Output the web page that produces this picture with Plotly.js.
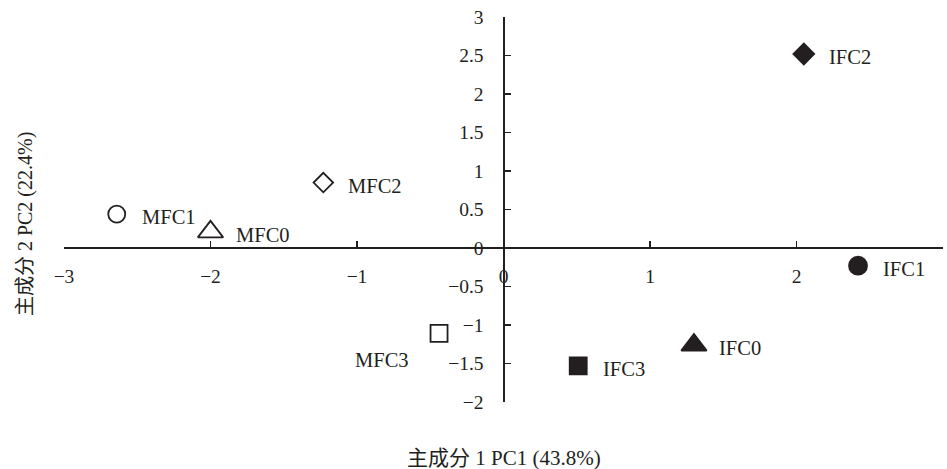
<!DOCTYPE html>
<html>
<head>
<meta charset="utf-8">
<script src="https://cdn.plot.ly/plotly-3.0.1.min.js"></script>
<style>html,body{margin:0;padding:0;background:#fff;}#chart{width:947px;height:469px;}</style>
</head>
<body>
<div id="chart"></div>
<script>
// Sample names, PC1 / PC2 scores, marker symbols
const names   = ["MFC0", "MFC1", "MFC2", "MFC3", "IFC0", "IFC1", "IFC2", "IFC3"];
const pc1     = [-2.00, -2.64, -1.23, -0.44, 1.30, 2.42, 2.05, 0.51];
const pc2     = [0.21, 0.44, 0.85, -1.11, -1.26, -0.23, 2.52, -1.53];
const symbols = ["triangle-up-open", "circle-open", "diamond-open", "square-open",
                 "triangle-up", "circle", "diamond", "square"];
const sizes   = [22, 17, 15, 17, 22, 18, 16, 17];

const xTicks = [-3, -2, -1, 0, 1, 2, 3];
const yTicks = [-2, -1.5, -1, -0.5, 0, 0.5, 1, 1.5, 2, 2.5, 3];

const ink = '#231f20';
const latin = "'Liberation Serif', 'Times New Roman', 'Noto Sans CJK SC', serif";
const fmt = v => v < 0 ? '\u2212' + Math.abs(v) : String(v);

const trace = {
  type: 'scatter', mode: 'markers',
  x: pc1, y: pc2,
  marker: {symbol: symbols, size: sizes, color: ink, opacity: 1, line: {color: ink, width: 1.8}},
  hoverinfo: 'none', cliponaxis: false
};

const annotations = names.map((n, i) => {
  const left = n === 'MFC3';
  return {
    x: pc1[i], y: pc2[i], xref: 'x', yref: 'y', text: n, showarrow: false,
    xanchor: left ? 'right' : 'left', yanchor: 'middle',
    xshift: left ? -28 : 23, yshift: left ? -27 : -3,
    font: {family: latin, size: 20.5, color: ink}
  };
});
annotations.push({
  text: '主成分 1 PC1 (43.8%)', xref: 'paper', yref: 'paper', x: 0.5, y: -0.145,
  xanchor: 'center', yanchor: 'middle', showarrow: false,
  font: {family: latin, size: 21, color: ink}
});
annotations.push({
  text: '主成分 2 PC2 (22.4%)', xref: 'paper', yref: 'paper', x: -0.0444, y: 0.462,
  xanchor: 'center', yanchor: 'middle', showarrow: false, textangle: -90,
  font: {family: latin, size: 20, color: ink}
});

const layout = {
  width: 947, height: 469,
  margin: {l: 64, r: 4, t: 17, b: 67},
  paper_bgcolor: '#fff', plot_bgcolor: '#fff',
  showlegend: false,
  font: {family: latin, size: 19, color: ink},
  xaxis: {
    range: [-3, 3], tickvals: xTicks, ticktext: xTicks.map(fmt),
    anchor: 'free', position: 0.4,
    showgrid: false, zeroline: false, showline: true, linecolor: ink, linewidth: 2,
    ticks: 'inside', ticklen: 6, tickwidth: 1.5, tickcolor: ink, ticklabelstandoff: 11,
    tickfont: {family: latin, size: 19.5, color: ink}, fixedrange: true
  },
  yaxis: {
    range: [-2, 3], tickvals: yTicks, ticktext: yTicks.map(fmt),
    anchor: 'free', position: 0.5,
    showgrid: false, zeroline: false, showline: true, linecolor: ink, linewidth: 2,
    ticks: 'inside', ticklen: 6, tickwidth: 1.5, tickcolor: ink, ticklabelstandoff: 15,
    tickfont: {family: latin, size: 19.5, color: ink}, fixedrange: true
  },
  annotations: annotations
};

Plotly.newPlot('chart', [trace], layout, {staticPlot: true, displayModeBar: false});
</script>
</body>
</html>
